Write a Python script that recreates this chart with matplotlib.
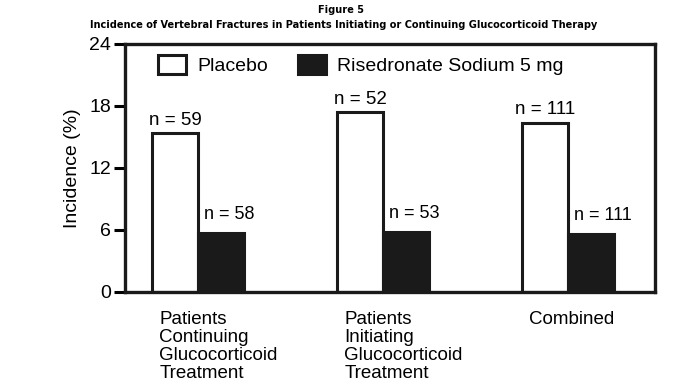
import matplotlib
matplotlib.use("Agg")
import matplotlib.pyplot as plt
from matplotlib.patches import Patch
import numpy as np

plt.rcParams['font.family'] = ['Liberation Sans', 'DejaVu Sans']

# data
groups = ["Patients\nContinuing\nGlucocorticoid\nTreatment",
          "Patients\nInitiating\nGlucocorticoid\nTreatment",
          "Combined"]
placebo = [15.4, 17.4, 16.4]
risedronate = [5.7, 5.8, 5.6]
n_placebo = ["n = 59", "n = 52", "n = 111"]
n_rise = ["n = 58", "n = 53", "n = 111"]
yticks = [0, 6, 12, 18, 24]

fig = plt.figure(figsize=(6.92, 3.89), dpi=100)
ax = fig.add_axes([0.1806, 0.2494, 0.766, 0.6375])

x = np.arange(len(groups))
w = 0.249
ax.bar(x - w / 2, placebo, w, color='white', edgecolor='#1a1a1a', linewidth=2.2)
ax.bar(x + w / 2, risedronate, w, color='#1a1a1a', edgecolor='#1a1a1a', linewidth=2.2)

for i in range(len(groups)):
    ax.annotate(n_placebo[i], (x[i] - w / 2, placebo[i]), xytext=(0, 3),
                textcoords='offset points', ha='center', va='bottom', fontsize=13.5)
    ax.annotate(n_rise[i], (x[i] + 0.03, risedronate[i]), xytext=(0, 7),
                textcoords='offset points', ha='left', va='bottom', fontsize=13)
    ax.text(x[i] - 0.21, -0.075, groups[i], transform=ax.get_xaxis_transform(),
            ha='left', va='top', fontsize=13.5, linespacing=1.1)

ax.set_xlim(-0.395, 2.47)
ax.set_ylim(0, 24)
ax.set_yticks(yticks)
ax.set_xticks([])
ax.tick_params(axis='y', length=8, width=2.2, labelsize=14, pad=2)
for s in ax.spines.values():
    s.set_linewidth(2.4)
    s.set_color('#1a1a1a')
ax.set_ylabel("Incidence (%)", fontsize=14, labelpad=6)

handles = [Patch(facecolor='white', edgecolor='#1a1a1a', linewidth=2.2),
           Patch(facecolor='#1a1a1a', edgecolor='#1a1a1a', linewidth=2.2)]
ax.legend(handles, ["Placebo", "Risedronate Sodium 5 mg"], ncol=2, frameon=False,
          loc='upper left', bbox_to_anchor=(0.062, 0.955), borderpad=0, borderaxespad=0,
          handlelength=1.45, handleheight=1.1, handletextpad=0.6, columnspacing=1.5,
          fontsize=14)

fig.text(0.493, 0.988, "Figure 5", ha='center', va='top', fontsize=7.8,
         fontweight='bold', family='DejaVu Sans', fontstretch='condensed')
fig.text(0.497, 0.948, "Incidence of Vertebral Fractures in Patients Initiating or Continuing Glucocorticoid Therapy",
         ha='center', va='top', fontsize=7.8, fontweight='bold', family='DejaVu Sans',
         fontstretch='condensed')

fig.savefig("out.png", dpi=100)
